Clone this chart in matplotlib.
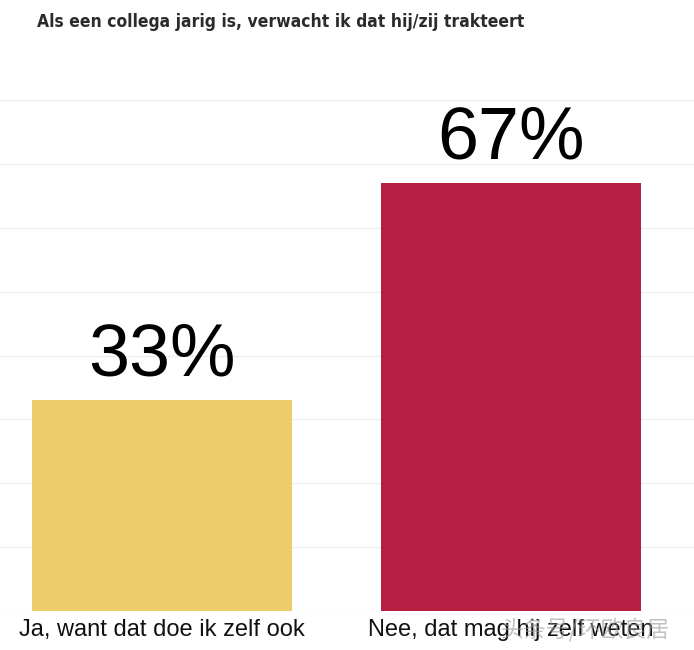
import matplotlib
matplotlib.use("Agg")
import matplotlib.pyplot as plt

categories = ["Ja, want dat doe ik zelf ook", "Nee, dat mag hij zelf weten"]
values = [33, 67]
value_labels = ["33%", "67%"]
colors = ["#EFCC6A", "#B71E41"]
title = "Als een collega jarig is, verwacht ik dat hij/zij trakteert"
watermark = "头条号/环欧良居"
grid_values = [0, 10, 20, 30, 40, 50, 60, 70, 80]

fig = plt.figure(figsize=(6.94, 6.5), dpi=100)
ax = fig.add_axes([0.0, 0.06, 1.0, 0.786])

x = list(range(len(categories)))
ax.bar(x, values, width=0.747, color=colors, zorder=2)
ax.set_xlim(-0.464, 1.524)
ax.set_ylim(0, 80)
ax.set_yticks(grid_values)
for g in grid_values:
    ax.axhline(g, color="#EEEEEE", lw=1.0, zorder=1)
ax.tick_params(left=False, bottom=False, labelleft=False, labelbottom=False)
for s in ax.spines.values():
    s.set_visible(False)

for xi, v, lab in zip(x, values, value_labels):
    ax.annotate(lab, (xi, v), xytext=(0, 7), textcoords="offset points",
                ha="center", va="bottom", fontsize=53,
                family=["Liberation Sans", "DejaVu Sans"], color="#000000")

for xi, cat in zip(x, categories):
    ax.annotate(cat, (xi, 0), xytext=(0, -6), textcoords="offset points",
                ha="center", va="top", fontsize=17,
                family=["Liberation Sans", "DejaVu Sans"],
                color="#111111")

fig.text(37 / 694, 1 - 22 / 650, title, ha="left", va="center", fontsize=12.5,
         fontweight="bold", fontstretch="condensed", family=["DejaVu Sans"],
         color="#2B2B2E")

fig.text(585 / 694, 1 - 630 / 650, watermark, ha="center", va="center", fontsize=16.5,
         family=["Noto Sans CJK SC", "DejaVu Sans"], color="#999999", alpha=0.6)

fig.savefig("out.png", dpi=100)
